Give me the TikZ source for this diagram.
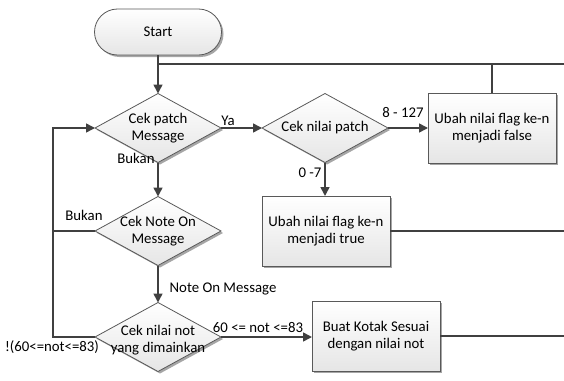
\documentclass[tikz,border=0pt]{standalone}
\usepackage{fontspec}
\setmainfont{Carlito}
\usetikzlibrary{shapes.geometric,shadows,arrows.meta}
\begin{document}
\begin{tikzpicture}[x=1pt,y=-1pt,
  font=\fontsize{14.8}{17}\selectfont,
  every node/.style={inner sep=0pt, outer sep=0pt},
  shapebase/.style={draw=black!65, line width=0.8pt, top color=white, bottom color=black!10,
     drop shadow={shadow xshift=2pt, shadow yshift=-2pt, fill=black!35, opacity=1}},
  term/.style={shapebase, rounded corners=23pt, minimum width=127pt, minimum height=46pt},
  dec/.style={shapebase, diamond, minimum width=126pt, minimum height=69pt},
  proc/.style={shapebase, minimum width=128pt, minimum height=70pt, align=center},
  conn/.style={draw=black!75, line width=1.6pt},
  arr/.style={conn, -{Triangle[length=9pt,width=9pt]}},
  lbl/.style={align=center}
]
\useasboundingbox (0,0) rectangle (564,380);

\node[term] (start) at (158,32) {Start};
\node[dec, label={[align=center]center:Cek patch\\Message}] (d1) at (158,128) {};
\node[dec, label={[align=center]center:Cek nilai patch}] (d2) at (325,128) {};
\node[proc] (b1) at (492,128) {Ubah nilai flag ke-n\\menjadi false};
\node[proc] (b2) at (326,231) {Ubah nilai flag ke-n\\menjadi true};
\node[dec, label={[align=center]center:Cek Note On\\Message}] (d3) at (158,231) {};
\node[dec, label={[align=center,yshift=-3pt]center:Cek nilai not\\yang dimainkan}] (d4) at (158,337) {};
\node[proc] (b3) at (376,336) {Buat Kotak Sesuai\\dengan nilai not};

\coordinate (top) at (158,64);
\coordinate (topR) at (564,64);
\coordinate (r2) at (564,231);
\coordinate (r3) at (564,336);
\coordinate (lt) at (53,128);
\coordinate (lm) at (53,231);
\coordinate (lb) at (53,337);

\draw[arr] (start.south) -- (d1.north);
\draw[conn] (top) -- (topR);
\draw[conn] (b1.north) -- (b1.north |- top);
\draw[arr] (d1.east) -- (d2.west);
\draw[arr] (d2.east) -- (b1.west);
\draw[arr] (d2.south) -- (d2.south |- b2.north);
\draw[conn] (b2.east) -- (r2);
\draw[arr] (d1.south) -- (d3.north);
\draw[arr] (d3.south) -- (d4.north);
\draw[arr] (d4.east) -- (d4.east -| b3.west);
\draw[conn] (b3.east) -- (r3);
\draw[conn] (d3.west) -- (lm);
\draw[arr] (d4.west) -- (lb) -- (lt) -- (d1.west);

\node[lbl] (lya) at (228,121) {Ya};
\node[lbl] (lbk1) at (136,158) {Bukan};
\node[lbl] (l8) at (403,112) {8 - 127};
\node[lbl] (l0) at (310,173) {0 -7};
\node[lbl] (lbk2) at (84,215) {Bukan};
\node[lbl] (lnote) at (223,289) {Note On Message};
\node[lbl] (lnot1) at (52,347) {!(60<=not<=83)};
\node[lbl] (lnot2) at (258,327) {60 <= not <=83};
\end{tikzpicture}
\end{document}
